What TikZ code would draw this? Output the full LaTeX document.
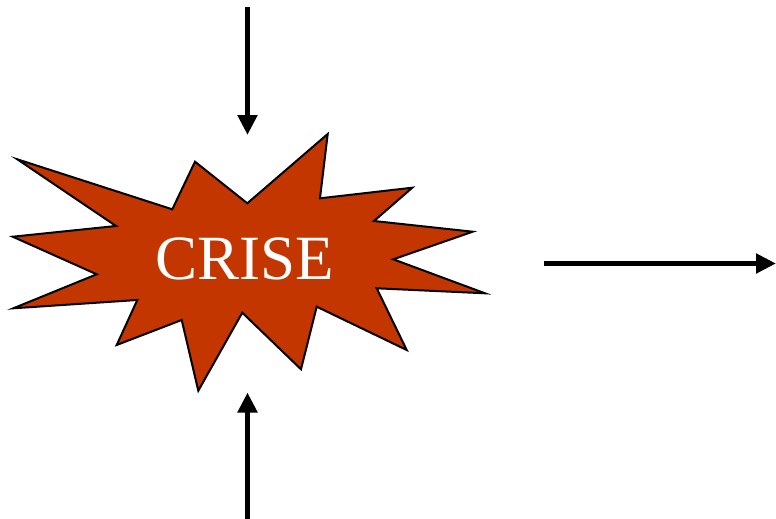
\documentclass[tikz,border=0pt]{standalone}
\usepackage{fontspec}
\setmainfont{Liberation Serif}
\newfontfamily\timesfont{Liberation Serif}
\usetikzlibrary{arrows.meta}
\definecolor{crisefill}{RGB}{196,54,0}
\tikzset{
  flow/.style={line width=5.5pt,-{Triangle[length=20pt,width=19pt]}},
  burst/.style={fill=crisefill,draw=black,line width=2pt,line join=miter},
  crisetext/.style={text=white,font=\timesfont\fontsize{63}{63}\selectfont,inner sep=0pt}
}
\begin{document}
\begin{tikzpicture}[x=1pt,y=-1pt]
\useasboundingbox (0,0) rectangle (776,519);
\draw[burst] (17.3,159.3) -- (172.3,209.3) -- (195,161.7) -- (247.3,203.3) -- (327.7,134) -- (320,198.3)
  -- (412.3,187.7) -- (374,221) -- (472.7,231.7) -- (393.3,259.3) -- (485,293.3) -- (376.7,288.3)
  -- (406.7,350) -- (316.7,306.7) -- (301,369.3) -- (242.3,312.7) -- (198.3,390.7) -- (181.7,320)
  -- (116.7,345) -- (137.3,300) -- (13.3,308.3) -- (96.7,274.3) -- (12.7,236.7) -- (116,226) -- cycle;
\node[crisetext] (crise) at (245,259) {CRISE};
\coordinate (topstart) at (247.5,7);
\coordinate (topend) at (247.5,135);
\coordinate (botstart) at (247.5,519);
\coordinate (botend) at (247.5,392.5);
\coordinate (rightstart) at (544,263.5);
\coordinate (rightend) at (776,263.5);
\draw[flow] (topstart) -- (topend);
\draw[flow] (botstart) -- (botend);
\draw[flow] (rightstart) -- (rightend);
\end{tikzpicture}
\end{document}
